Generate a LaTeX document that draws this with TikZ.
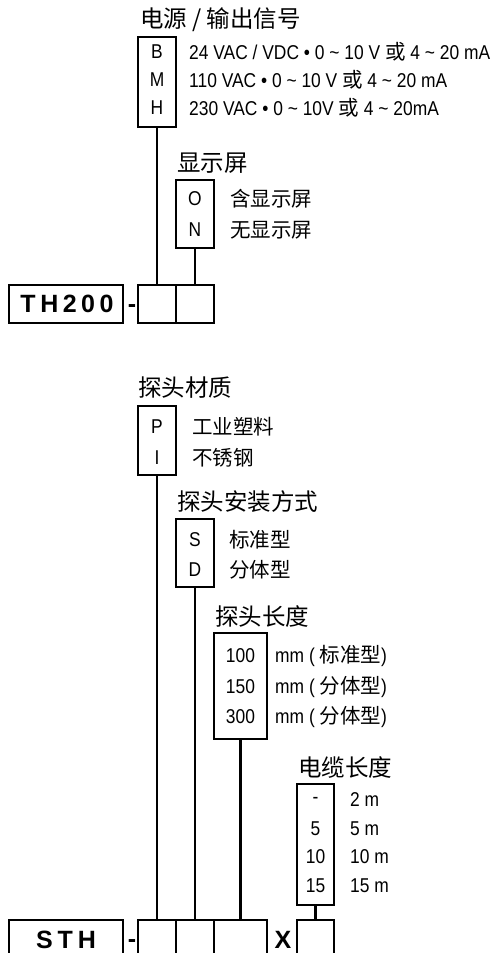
\documentclass[tikz,border=0pt]{standalone}
\usepackage{fontspec}
\setmainfont{Liberation Sans}[FakeStretch=0.87]
\newfontfamily\cjk{Noto Sans CJK SC}
\newfontfamily\boldsans{Liberation Sans Bold}
\newcommand\zh[1]{{\cjk\fontsize{20.5}{21}\selectfont #1}}
\newcommand\tld{\textasciitilde}
\tikzset{
  box/.style={draw, line width=2.4pt, inner sep=0, minimum width=38pt},
  wire/.style={line width=2.2pt},
  opt/.style={font=\fontsize{20}{21}\selectfont, anchor=west, inner sep=0},
  code/.style={font=\fontsize{20}{21}\selectfont, inner sep=0},
  ttl/.style={font=\cjk\fontsize{23.5}{24}\selectfont, anchor=west, inner sep=0},
  big/.style={font=\boldsans\fontsize{25}{25}\selectfont, inner sep=0},
}
\begin{document}
\begin{tikzpicture}[x=1pt,y=-1pt]
\useasboundingbox (0,0) rectangle (495,953);
\clip (0,0) rectangle (495,953);
% ---------- TH200 ----------
\node[ttl] (t1) at (140,20) {电源 / 输出信号};
\node[box, minimum height=90pt] (bmh) at (157,82) {};
\node[code] (kb) at (157,52) {B};
\node[code] (km) at (157,80) {M};
\node[code] (kh) at (157,108) {H};
\node[opt] (ob) at (189,52) {24 VAC / VDC • 0 \tld{} 10 V \zh{或} 4 \tld{} 20 mA};
\node[opt] (om) at (189,80) {110 VAC • 0 \tld{} 10 V \zh{或} 4 \tld{} 20 mA};
\node[opt] (oh) at (189,108) {230 VAC • 0 \tld{} 10V \zh{或} 4 \tld{} 20mA};

\node[ttl] (t2) at (177,163) {显示屏};
\node[box, minimum height=68pt] (on) at (195,214) {};
\node[code] (ko) at (195,199) {O};
\node[code] (kn) at (195,230) {N};
\node[opt] (oo) at (230,199) {\zh{含显示屏}};
\node[opt] (onn) at (230,230) {\zh{无显示屏}};

\node[box, minimum width=114pt, minimum height=38pt] (th) at (66,304) {};
\node[big] (thl) at (67,304) {T\kern4.5pt H\kern4.5pt 2\kern4.5pt 0\kern4.5pt 0};
\node[big] (d1) at (132,309) {-};
\node[box, minimum height=38pt] (c1) at (157,304) {};
\node[box, minimum height=38pt] (c2) at (195,304) {};
\draw[wire] (bmh.south) -- (c1.north);
\draw[wire] (on.south) -- (c2.north);

% ---------- STH ----------
\node[ttl] (t3) at (138,388) {探头材质};
\node[box, minimum height=69pt] (pi) at (157,440.5) {};
\node[code] (kp) at (157,427) {P};
\node[code] (ki) at (157,458) {I};
\node[opt] (op) at (192,427) {\zh{工业塑料}};
\node[opt] (oi) at (192,458) {\zh{不锈钢}};

\node[ttl] (t4) at (177,502) {探头安装方式};
\node[box, minimum height=68pt] (sd) at (195,553) {};
\node[code] (ks) at (195,540) {S};
\node[code] (kd) at (195,570) {D};
\node[opt] (os) at (229,540) {\zh{标准型}};
\node[opt] (od) at (229,570) {\zh{分体型}};

\node[ttl] (t5) at (215,617) {探头长度};
\node[box, minimum width=53pt, minimum height=106pt] (len) at (240.5,686) {};
\node[code] (k100) at (240.5,656) {100};
\node[code] (k150) at (240.5,687) {150};
\node[code] (k300) at (240.5,717) {300};
\node[opt] (o100) at (275,656) {mm ( \zh{标准型})};
\node[opt] (o150) at (275,687) {mm ( \zh{分体型})};
\node[opt] (o300) at (275,717) {mm ( \zh{分体型})};

\node[ttl] (t6) at (298,768) {电缆长度};
\node[box, minimum width=37pt, minimum height=121pt] (cab) at (315.5,844.5) {};
\node[code] (k2) at (315.5,800) {-};
\node[code] (k5) at (315.5,829) {5};
\node[code] (k10) at (315.5,857) {10};
\node[code] (k15) at (315.5,886) {15};
\node[opt] (o2) at (350,800) {2 m};
\node[opt] (o5) at (350,829) {5 m};
\node[opt] (o10) at (350,857) {10 m};
\node[opt] (o15) at (350,886) {15 m};

\node[box, minimum width=114pt, minimum height=38pt] (sth) at (66,939) {};
\node[big] (sthl) at (66,940) {S\kern5pt T\kern5pt H};
\node[big] (d2) at (132,944) {-};
\node[box, minimum height=38pt] (s1) at (157,939) {};
\node[box, minimum height=38pt] (s2) at (195,939) {};
\node[box, minimum width=53pt, minimum height=38pt] (s3) at (240.5,939) {};
\node[big] (xx) at (283,940) {X};
\node[box, minimum width=37pt, minimum height=38pt] (s4) at (315.5,939) {};
\draw[wire] (pi.south) -- (s1.north);
\draw[wire] (sd.south) -- (s2.north);
\draw[wire] (len.south) -- (s3.north);
\draw[wire] (cab.south) -- (s4.north);
\end{tikzpicture}
\end{document}
